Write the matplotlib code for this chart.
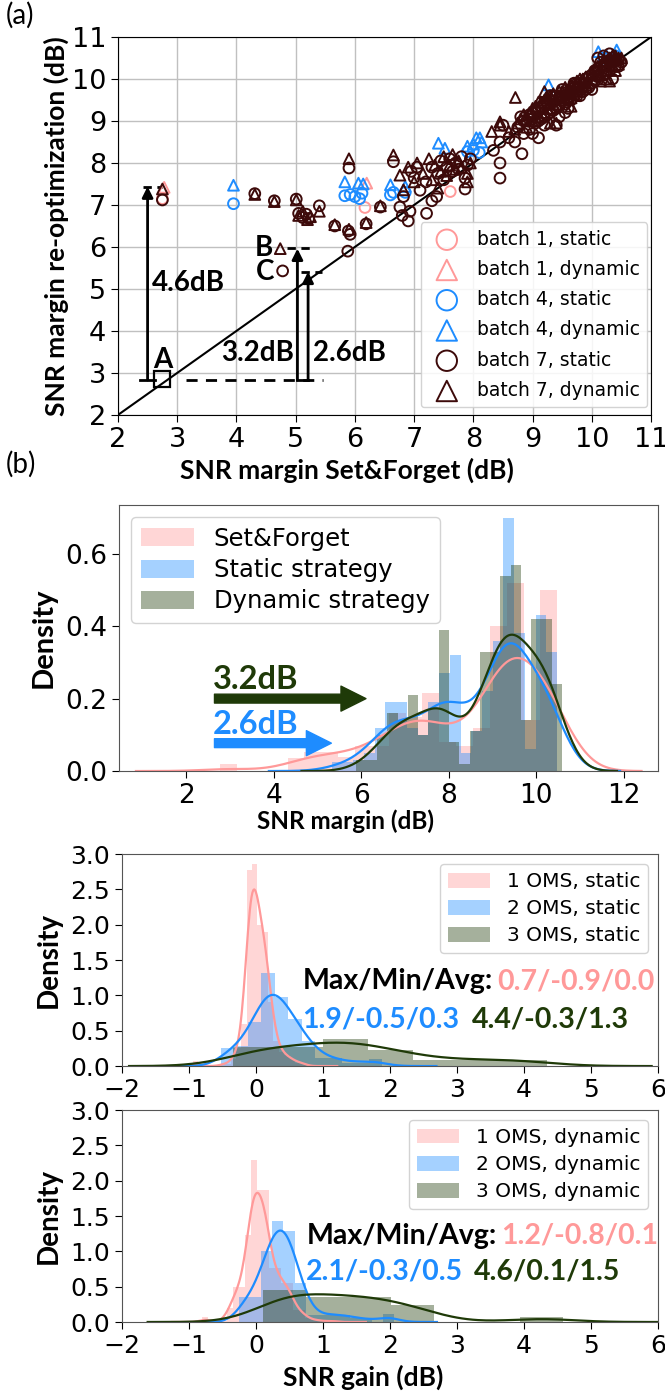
import numpy as np
import matplotlib
matplotlib.use('Agg')
import matplotlib.pyplot as plt
import seaborn as sns

# ---- panel (a): SNR margin after re-optimization vs Set&Forget ----
b1_static = [(2.75, 7.15), (6.17, 6.94), (7.61, 7.32)]
b1_dynamic = [(2.78, 7.42), (6.20, 7.52)]
b4_static = [(3.95, 7.03), (5.83, 7.22), (5.92, 7.25), (6.00, 7.20), (6.08, 7.15),
             (6.12, 7.28), (6.60, 7.24), (6.65, 7.30), (6.85, 7.30), (7.90, 8.27),
             (8.00, 8.30), (8.10, 8.25), (9.30, 9.60), (10.20, 10.50), (10.40, 10.55)]
b4_dynamic = [(3.95, 7.47), (5.83, 7.55), (6.06, 7.52), (6.14, 7.50), (6.60, 7.48),
              (6.85, 7.44), (7.41, 8.47), (7.52, 8.35), (7.90, 8.40), (8.00, 8.45),
              (8.05, 8.60), (8.14, 8.50), (8.11, 8.60), (9.27, 9.86), (10.11, 10.65),
              (10.42, 10.69), (10.25, 10.55)]
b7_static = [(2.75, 7.12), (4.31, 7.27), (4.64, 7.10), (4.78, 5.43), (5.01, 7.14),
             (5.05, 6.80), (5.12, 6.70), (5.18, 6.78), (5.22, 6.68), (5.40, 6.98),
             (5.66, 6.50), (5.89, 6.38), (5.92, 6.30), (5.88, 5.90), (5.90, 7.88),
             (6.19, 6.55), (6.43, 6.95), (6.65, 8.03), (6.76, 6.95), (6.80, 6.75),
             (6.90, 6.62), (6.93, 6.85), (6.82, 7.20), (7.00, 7.65), (7.05, 7.90),
             (7.21, 6.80), (7.30, 7.10), (7.38, 7.20), (7.20, 7.55), (7.30, 7.90),
             (7.40, 7.75), (7.45, 8.05), (7.50, 7.60), (7.55, 7.90), (7.60, 8.10),
             (7.65, 7.80), (7.70, 8.00), (7.75, 7.85), (7.80, 8.15), (7.86, 7.64),
             (7.86, 7.38), (7.90, 7.95), (7.95, 8.10), (7.10, 7.35), (6.95, 7.80),
             (8.45, 8.00), (8.45, 7.64), (8.82, 8.22), (8.34, 8.30), (8.45, 8.50),
             (8.50, 8.90), (8.75, 8.85), (8.80, 9.10), (8.85, 8.70), (8.90, 9.00),
             (8.95, 8.80), (9.00, 9.20), (9.05, 8.95), (9.10, 9.30), (9.15, 9.05),
             (9.20, 9.40), (9.25, 9.15), (9.30, 9.50), (9.35, 9.25), (9.40, 9.60),
             (9.45, 9.35), (9.50, 9.55), (9.55, 9.40), (9.60, 9.70), (9.65, 9.50),
             (9.70, 9.80), (9.75, 9.60), (9.80, 9.90), (9.85, 9.70), (9.90, 10.00),
             (9.95, 9.80), (10.00, 10.10), (10.05, 9.95), (10.10, 10.20), (10.15, 10.30),
             (10.20, 10.10), (10.25, 10.40), (10.30, 10.20), (10.35, 10.50), (10.40, 10.30),
             (10.45, 10.45), (10.50, 10.40), (10.10, 10.50), (10.20, 10.55), (10.30, 10.60),
             (9.60, 9.30), (9.70, 9.90), (9.20, 8.90), (9.30, 9.60), (9.00, 8.70),
             (9.45, 9.10), (9.50, 9.75), (10.00, 9.90), (10.35, 10.00), (9.10, 9.00),
             (8.95, 9.15), (9.10, 8.60), (9.40, 8.90),
             (8.60, 8.60), (8.70, 8.50), (8.85, 9.00), (9.00, 9.05), (9.05, 9.25),
             (9.15, 9.35), (9.20, 9.10), (9.25, 9.40), (9.30, 9.20), (9.35, 9.45),
             (9.40, 9.30), (9.45, 9.55), (9.55, 9.60), (9.60, 9.50), (9.65, 9.70),
             (9.75, 9.75), (9.80, 9.60), (9.85, 9.90), (9.90, 9.75), (9.95, 10.05),
             (10.05, 10.20), (10.10, 10.05), (10.15, 10.40), (10.25, 10.30), (10.30, 10.45),
             (10.40, 10.45), (10.45, 10.30), (10.20, 10.25), (10.00, 9.75), (9.55, 9.20)]
b7_dynamic = [(2.75, 7.38), (4.31, 7.25), (4.64, 7.08), (4.74, 5.96), (5.01, 7.12),
              (5.05, 6.75), (5.12, 6.85), (5.20, 6.65), (5.25, 6.72), (5.40, 6.85),
              (5.66, 6.53), (5.90, 6.42), (5.90, 8.10), (6.19, 6.58), (6.43, 6.98),
              (6.65, 8.19), (6.76, 7.71), (6.82, 7.36), (6.90, 7.90), (7.00, 7.55),
              (7.05, 8.00), (7.15, 7.75), (7.25, 8.10), (7.30, 7.60), (7.35, 7.95),
              (7.40, 7.40), (7.45, 7.80), (7.50, 8.15), (7.55, 7.70), (7.60, 7.95),
              (7.65, 8.20), (7.70, 7.85), (7.75, 8.05), (7.80, 7.90), (7.90, 7.75),
              (7.90, 7.55), (7.95, 8.00), (8.31, 8.75), (8.45, 8.98), (8.45, 8.90),
              (8.71, 9.56), (8.70, 8.80), (8.80, 9.05), (8.90, 8.85), (8.95, 9.20),
              (9.00, 9.00), (9.05, 9.35), (9.10, 9.10), (9.15, 9.45), (9.20, 9.20),
              (9.25, 9.55), (9.30, 9.30), (9.35, 9.65), (9.40, 9.40), (9.45, 9.70),
              (9.50, 9.50), (9.55, 9.80), (9.60, 9.55), (9.65, 9.85), (9.70, 9.65),
              (9.75, 9.95), (9.80, 9.75), (9.85, 10.00), (9.90, 9.85), (10.00, 10.15),
              (10.05, 10.00), (10.10, 10.30), (10.15, 10.10), (10.20, 10.45), (10.25, 10.20),
              (10.30, 10.50), (10.35, 10.30), (10.40, 10.55), (10.45, 10.35), (10.50, 10.50),
              (10.15, 9.95), (10.30, 9.95), (9.30, 8.95), (9.20, 9.70), (9.65, 9.35),
              (9.40, 8.95),
              (8.60, 8.75), (8.75, 8.95), (8.85, 9.15), (9.00, 9.30), (9.10, 9.45),
              (9.20, 9.50), (9.25, 9.30), (9.30, 9.60), (9.35, 9.40), (9.45, 9.55),
              (9.50, 9.70), (9.55, 9.50), (9.60, 9.75), (9.70, 9.90), (9.75, 9.70),
              (9.80, 10.00), (9.90, 10.05), (9.95, 9.90), (10.05, 10.25), (10.10, 10.10),
              (10.20, 10.35), (10.30, 10.40), (10.35, 10.55), (10.45, 10.50), (10.40, 10.20),
              (9.65, 9.55), (9.85, 9.80), (10.25, 10.00)]

# ---- panel (b): SNR margin histograms (bin start, bin width, densities) ----
sf_start, sf_width = 2.78, 0.385
sf_dens = [0.02, 0, 0, 0, 0.037, 0.053, 0.053, 0.04, 0.07, 0.07,
           0.16, 0.15, 0.215, 0.08, 0.07, 0.12, 0.40, 0.52, 0.14, 0.50]
st_start, st_width = 4.105, 0.245
st_dens = [0, 0, 0, 0, 0, 0.025, 0.025, 0.03, 0.05, 0.12, 0.19, 0.19, 0.12,
           0.10, 0.19, 0.27, 0.32, 0.05, 0.11, 0.22, 0.36, 0.70, 0.38, 0.06, 0.43, 0.33]
dy_start, dy_width = 5.89, 0.235
dy_dens = [0.03, 0.03, 0.10, 0.16, 0.14, 0.21, 0.10, 0.17, 0.39, 0.08,
           0.02, 0.11, 0.33, 0.33, 0.54, 0.57, 0.14, 0.42, 0.42, 0.24]

# ---- panel (c): SNR gain, static ----
s1_start, s1_width = -0.94, 0.08
s1_dens = [0.07, 0, 0, 0, 0, 0.03, 0.03, 0.10, 0.25, 0.60, 2.77, 2.86, 2.0,
           1.9, 0.9, 0.35, 0.2, 0.15, 0.1, 0.05, 0.05]
s2_start, s2_width = -0.52, 0.2
s2_dens = [0.25, 0.28, 0.63, 1.31, 0.98, 0.67, 0.35, 0.12, 0.12, 0.05, 0.05, 0.10]
s3_start, s3_width = -0.34, 0.67
s3_dens = [0.27, 0.27, 0.39, 0.23, 0.09, 0.09, 0.09]

# ---- panel (d): SNR gain, dynamic ----
d1_start, d1_width = -0.8, 0.09
d1_dens = [0.075, 0, 0, 0.02, 0.2, 0.5, 0.5, 1.23, 2.29, 1.87, 1.87, 0.76, 0.76,
           0.55, 0.55, 0.17, 0.17, 0.05, 0.03, 0.03, 0, 0.03]
d2_start, d2_width = -0.25, 0.165
d2_dens = [0.36, 0.36, 1.0, 1.43, 1.29, 0.55, 0.1, 0.1, 0.1, 0.1, 0.05, 0.05, 0, 0.12]
d3_start, d3_width = 0.1, 0.64
d3_dens = [0.45, 0.36, 0.36, 0.24, 0, 0, 0.075]

PINK = '#ff9999'
BLUE = '#1e8cff'
BROWN = '#3d0a0a'
DKGREEN = '#1f3a08'
BOLD = 'Lato'


def hist_kde(ax, start, width, dens, bw, color, label):
    left = start + width * np.arange(len(dens))
    bars = ax.bar(left, dens, width=width, align='edge', color=color,
                  alpha=0.4, linewidth=0, label=label)
    w = np.asarray(dens, dtype=float)
    keep = w > 0
    centers = (left + width / 2)[keep]
    w = w[keep]
    std = np.sqrt(np.cov(centers, aweights=w))
    sns.kdeplot(x=centers, weights=w, bw_method=bw / std, ax=ax,
                color=color, lw=1.6)
    return bars


def style_density_ax(ax):
    for s in ax.spines.values():
        s.set_color('#555555')
    ax.tick_params(labelsize=18, length=5)


fig = plt.figure(figsize=(6.65, 13.91), dpi=100)

# ---------------- (a) ----------------
ax = fig.add_axes([0.1774, 0.7017, 0.8016, 0.2717])
ax.grid(True, color='#c0c0c0', lw=1)
ax.set_axisbelow(True)
ax.plot([2, 11], [2, 11], color='k', lw=1.5, zorder=3)
series = [(b1_static, PINK, 'o', 'batch 1, static'),
          (b1_dynamic, PINK, '^', 'batch 1, dynamic'),
          (b4_static, BLUE, 'o', 'batch 4, static'),
          (b4_dynamic, BLUE, '^', 'batch 4, dynamic'),
          (b7_static, BROWN, 'o', 'batch 7, static'),
          (b7_dynamic, BROWN, '^', 'batch 7, dynamic')]
for pts, col, mk, lab in series:
    p = np.array(pts)
    ax.scatter(p[:, 0], p[:, 1], s=60, marker=mk, facecolors='none',
               edgecolors=col, linewidths=1.4, label=lab, zorder=4)

# annotations
ax.plot([2.75], [2.85], marker='s', ms=11, mfc='none', mec='k', mew=1.6, zorder=5)
ax.plot([3.15, 5.46], [2.83, 2.83], '--', color='k', lw=2, dashes=(4, 3))
ax.plot([2.38, 2.62], [2.83, 2.83], color='k', lw=2)
ax.plot([2.42, 2.75], [7.42, 7.42], '--', color='k', lw=2, dashes=(3, 2))
ax.annotate('', xy=(2.5, 7.44), xytext=(2.5, 2.83),
            arrowprops=dict(arrowstyle='-|>', color='k', lw=2,
                            mutation_scale=16, shrinkA=0, shrinkB=0))
ax.plot([5.03, 5.21], [2.83, 2.83], color='k', lw=2)
ax.annotate('', xy=(5.03, 5.96), xytext=(5.03, 2.83),
            arrowprops=dict(arrowstyle='-|>', color='k', lw=2,
                            mutation_scale=16, shrinkA=0, shrinkB=0))
ax.annotate('', xy=(5.21, 5.41), xytext=(5.21, 2.83),
            arrowprops=dict(arrowstyle='-|>', color='k', lw=2,
                            mutation_scale=16, shrinkA=0, shrinkB=0))
ax.plot([4.85, 5.25], [5.97, 5.97], '--', color='k', lw=2, dashes=(3, 2))
ax.plot([5.09, 5.45], [5.41, 5.41], '--', color='k', lw=2, dashes=(3, 2))
tkw = dict(family=BOLD, fontweight='bold', fontsize=20, color='k')
ax.text(2.75, 3.0, 'A', ha='center', va='bottom', **tkw)
ax.text(4.62, 5.97, 'B', ha='right', va='center', **tkw)
ax.text(4.64, 5.41, 'C', ha='right', va='center', **tkw)
ax.text(2.57, 5.14, '4.6dB', ha='left', va='center', **tkw)
ax.text(4.97, 3.47, '3.2dB', ha='right', va='center', **tkw)
ax.text(5.30, 3.47, '2.6dB', ha='left', va='center', **tkw)

ax.set_xlim(2, 11)
ax.set_ylim(2, 11)
ax.set_xticks(range(2, 12))
ax.set_yticks(range(2, 12))
ax.tick_params(labelsize=19.5, length=5)
ax.set_xlabel('SNR margin Set&Forget (dB)', family=BOLD, fontweight='bold',
              fontsize=19, labelpad=2)
ax.xaxis.set_label_coords(0.43, -0.112)
ax.set_ylabel('SNR margin re-optimization (dB)', family=BOLD, fontweight='bold',
              fontsize=19, labelpad=2)
leg = ax.legend(loc='lower right', bbox_to_anchor=(1.0, 0.01), fontsize=13.5,
                markerscale=1.9, labelspacing=0.6, handletextpad=0.6,
                borderaxespad=0.2, framealpha=0.85)
for s in ax.spines.values():
    s.set_color('k')

fig.text(0.008, 0.999, '(a)', family=BOLD, fontsize=20, va='top', ha='left')
fig.text(0.008, 0.676, '(b)', family=BOLD, fontsize=20, va='top', ha='left')

# ---------------- (b) ----------------
ax = fig.add_axes([0.179, 0.4457, 0.8105, 0.1913])
h1 = hist_kde(ax, sf_start, sf_width, sf_dens, 0.58, PINK, 'Set&Forget')
h2 = hist_kde(ax, st_start, st_width, st_dens, 0.44, BLUE, 'Static strategy')
h3 = hist_kde(ax, dy_start, dy_width, dy_dens, 0.40, DKGREEN, 'Dynamic strategy')
ax.annotate('', xy=(6.11, 0.2), xytext=(2.65, 0.2),
            arrowprops=dict(arrowstyle='simple,head_width=0.9,head_length=0.9,tail_width=0.32',
                            color=DKGREEN, mutation_scale=20, shrinkA=0, shrinkB=0))
ax.annotate('', xy=(5.32, 0.077), xytext=(2.65, 0.077),
            arrowprops=dict(arrowstyle='simple,head_width=0.9,head_length=0.9,tail_width=0.32',
                            color=BLUE, mutation_scale=20, shrinkA=0, shrinkB=0))
ax.text(2.62, 0.212, '3.2dB', family=BOLD, fontweight='bold', fontsize=23.5,
        color=DKGREEN, ha='left', va='bottom')
ax.text(2.62, 0.089, '2.6dB', family=BOLD, fontweight='bold', fontsize=23.5,
        color=BLUE, ha='left', va='bottom')
ax.set_xlim(0.47, 12.78)
ax.set_ylim(0, 0.735)
ax.set_xticks(range(2, 13, 2))
ax.set_yticks([0, 0.2, 0.4, 0.6])
ax.set_yticklabels(['0.0', '0.2', '0.4', '0.6'])
style_density_ax(ax)
ax.tick_params(labelsize=19)
ax.set_xlabel('SNR margin (dB)', family=BOLD, fontweight='bold', fontsize=17.5, labelpad=0)
ax.xaxis.set_label_coords(0.42, -0.145)
ax.set_ylabel('Density', family=BOLD, fontweight='bold', fontsize=21, labelpad=6)
ax.legend(handles=[h1, h2, h3], loc='upper left', fontsize=17.5, handlelength=2.2,
          handleheight=0.75, handletextpad=0.8, labelspacing=0.3, framealpha=0.85)

# ---------------- (c) ----------------
ax = fig.add_axes([0.1835, 0.2336, 0.806, 0.1524])
g1 = hist_kde(ax, s1_start, s1_width, s1_dens, 0.075, PINK, '1 OMS, static')
g2 = hist_kde(ax, s2_start, s2_width, s2_dens, 0.2, BLUE, '2 OMS, static')
g3 = hist_kde(ax, s3_start, s3_width, s3_dens, 0.55, DKGREEN, '3 OMS, static')
ax.set_xlim(-2, 6)
ax.set_ylim(0, 3)
ax.set_xticks(range(-2, 7))
ax.set_yticks(np.arange(0, 3.01, 0.5))
style_density_ax(ax)
ax.set_xlabel('')
ax.set_ylabel('Density', family=BOLD, fontweight='bold', fontsize=20, labelpad=6)
ax.legend(handles=[g1, g2, g3], loc='upper right', fontsize=14.5, handlelength=2.1,
          handleheight=0.75, labelspacing=0.4, framealpha=0.85)
mkw = dict(family=BOLD, fontweight='bold', fontsize=20.5, va='center', ha='left')
ax.text(0.69, 1.2, 'Max/Min/Avg:', color='k', **mkw)
ax.text(3.6, 1.2, '0.7/-0.9/0.0', color=PINK, **mkw)
ax.text(0.69, 0.66, '1.9/-0.5/0.3', color=BLUE, **mkw)
ax.text(3.22, 0.66, '4.4/-0.3/1.3', color=DKGREEN, **mkw)

# ---------------- (d) ----------------
ax = fig.add_axes([0.1835, 0.0496, 0.806, 0.1524])
k1 = hist_kde(ax, d1_start, d1_width, d1_dens, 0.085, PINK, '1 OMS, dynamic')
k2 = hist_kde(ax, d2_start, d2_width, d2_dens, 0.16, BLUE, '2 OMS, dynamic')
k3 = hist_kde(ax, d3_start, d3_width, d3_dens, 0.5, DKGREEN, '3 OMS, dynamic')
ax.set_xlim(-2, 6)
ax.set_ylim(0, 3)
ax.set_xticks(range(-2, 7))
ax.set_yticks(np.arange(0, 3.01, 0.5))
style_density_ax(ax)
ax.set_xlabel('SNR gain (dB)', family=BOLD, fontweight='bold', fontsize=19, labelpad=2)
ax.xaxis.set_label_coords(0.45, -0.2)
ax.set_ylabel('Density', family=BOLD, fontweight='bold', fontsize=20, labelpad=6)
ax.legend(handles=[k1, k2, k3], loc='upper right', fontsize=14.5, handlelength=2.1,
          handleheight=0.75, labelspacing=0.4, framealpha=0.85)
ax.text(0.75, 1.22, 'Max/Min/Avg:', color='k', **mkw)
ax.text(3.66, 1.22, '1.2/-0.8/0.1', color=PINK, **mkw)
ax.text(0.75, 0.71, '2.1/-0.3/0.5', color=BLUE, **mkw)
ax.text(3.25, 0.71, '4.6/0.1/1.5', color=DKGREEN, **mkw)

fig.savefig('out.png', dpi=100)
